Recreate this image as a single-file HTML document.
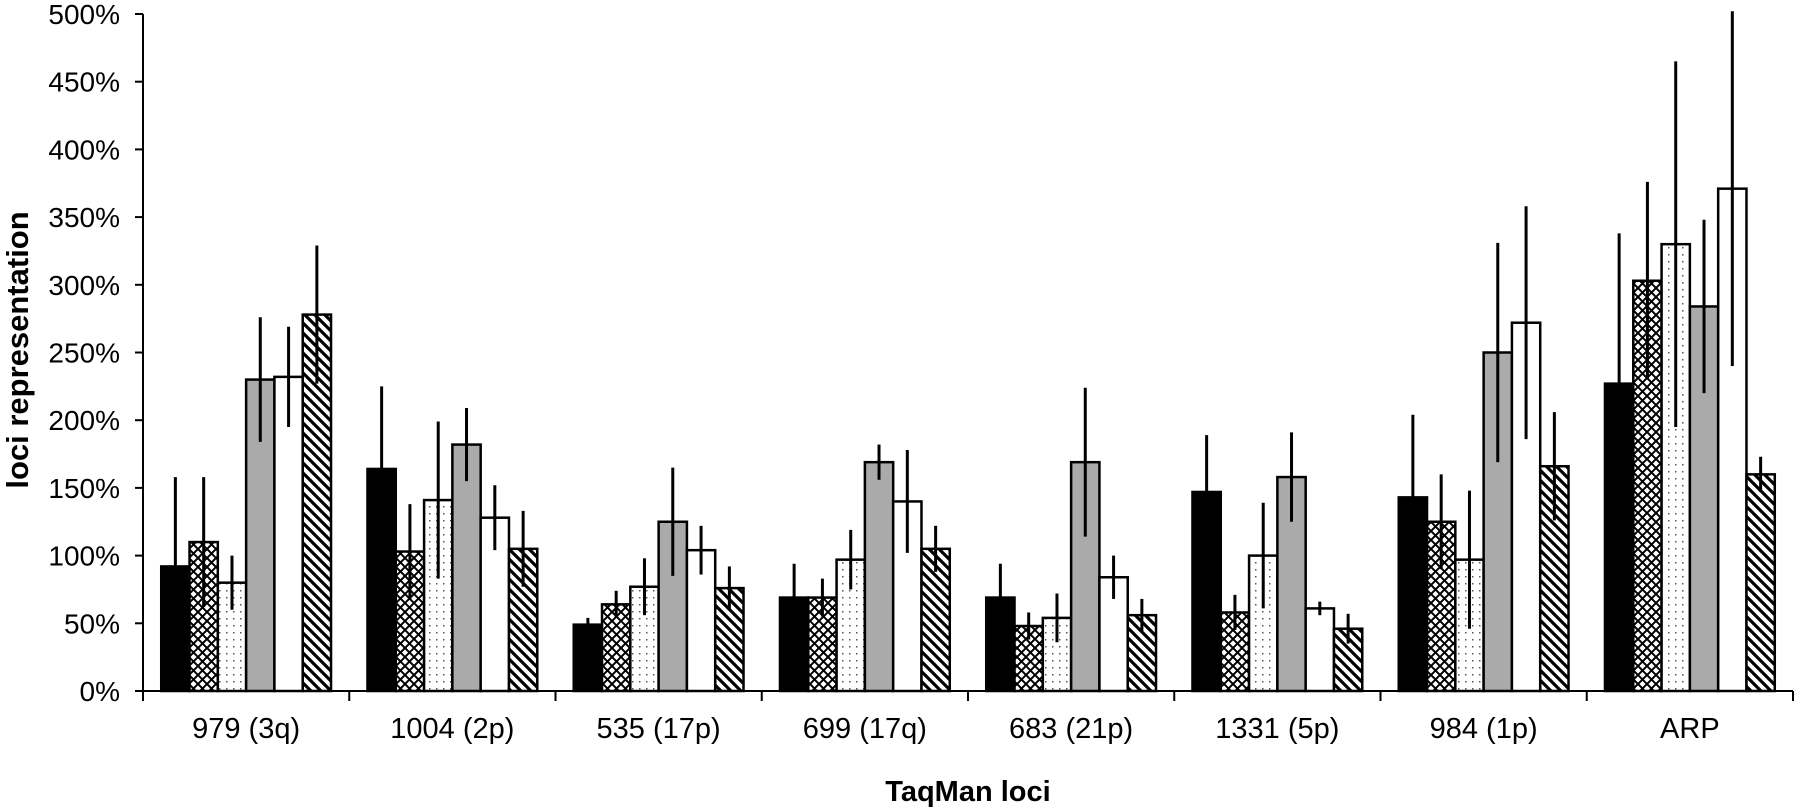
<!DOCTYPE html>
<html><head><meta charset="utf-8"><style>
html,body{margin:0;padding:0;background:#fff;}
svg{display:block;font-family:"Liberation Sans",Arial,sans-serif;}
</style></head><body>
<svg id="chart" width="1800" height="808" viewBox="0 0 1800 808" xmlns="http://www.w3.org/2000/svg">
<defs>
<pattern id="p-cross" patternUnits="userSpaceOnUse" width="9" height="9">
<rect width="9" height="9" fill="#fff"/>
<path d="M0,0 L9,9 M9,0 L0,9" stroke="#000" stroke-width="2"/>
</pattern>
<pattern id="p-dots" patternUnits="userSpaceOnUse" width="7" height="7">
<rect width="7" height="7" fill="#fff"/>
<rect x="2" y="2" width="1.5" height="1.5" fill="#555"/>
</pattern>
<pattern id="p-stripe" patternUnits="userSpaceOnUse" width="10" height="10">
<rect width="10" height="10" fill="#fff"/>
<path d="M-5,-5 L15,15 M-5,5 L5,15 M5,-5 L15,5" stroke="#000" stroke-width="3.2"/>
</pattern>
</defs>
<g id="plot"></g>
</svg>
<script>
const categories = ["979 (3q)","1004 (2p)","535 (17p)","699 (17q)","683 (21p)","1331 (5p)","984 (1p)","ARP"];
const s1 = [92,164,49,69,69,147,143,227];
const s2 = [110,103,64,69,48,58,125,303];
const s3 = [80,141,77,97,54,100,97,330];
const s4 = [230,182,125,169,169,158,250,284];
const s5 = [232,128,104,140,84,61,272,371];
const s6 = [278,105,76,105,56,46,166,160];
const e1 = [66,61,5,25,25,42,61,111];
const e2 = [48,35,10,14,10,13,35,73];
const e3 = [20,58,21,22,18,39,51,135];
const e4 = [46,27,40,13,55,33,81,64];
const e5 = [37,24,18,38,16,5,86,131];
const e6 = [51,28,16,17,12,11,40,13];
const yTicks = [0,50,100,150,200,250,300,350,400,450,500];

const series = [s1,s2,s3,s4,s5,s6];
const errs = [e1,e2,e3,e4,e5,e6];
const fills = ["#000","url(#p-cross)","url(#p-dots)","#aaa","#fff","url(#p-stripe)"];
const NS = "http://www.w3.org/2000/svg";
const X0 = 143, X1 = 1793, Y0 = 691, Y1 = 14, YMAX = 500;
const groupW = (X1 - X0) / categories.length;
const barW = 28.3;
const yScale = v => Y0 - (v / YMAX) * (Y0 - Y1);
const xBar = (g, s) => X0 + g * groupW + (groupW - barW * 6) / 2 + s * barW;
const plot = document.getElementById('plot');
function mk(tag, attrs) {
  const el = document.createElementNS(NS, tag);
  for (const k in attrs) el.setAttribute(k, attrs[k]);
  plot.appendChild(el);
  return el;
}
for (let s = 0; s < 6; s++) {
  for (let g = 0; g < categories.length; g++) {
    const v = series[s][g];
    const r = mk('rect', {x: xBar(g, s), y: yScale(v), width: barW, height: Y0 - yScale(v), fill: fills[s], stroke: '#000', 'stroke-width': 2.5});
    
    
  }
}
for (let s = 0; s < 6; s++) {
  for (let g = 0; g < categories.length; g++) {
    const v = series[s][g], e = errs[s][g];
    const cx = xBar(g, s) + barW / 2;
    const l = mk('line', {x1: cx, x2: cx, y1: yScale(v + e), y2: yScale(Math.max(0, v - e)), stroke: '#000', 'stroke-width': 3});
    
    
  }
}
const ya = mk('line', {x1: X0, x2: X0, y1: Y1, y2: Y0, stroke: '#000', 'stroke-width': 2});


const xa = mk('line', {x1: X0 - 8, x2: X1, y1: Y0, y2: Y0, stroke: '#000', 'stroke-width': 2});


yTicks.forEach(t => {
  const y = yScale(t);
  const tk = mk('line', {x1: X0 - 8, x2: X0, y1: y, y2: y, stroke: '#000', 'stroke-width': 2});
  
  
  const tx = mk('text', {x: 120, y: y + 10, 'text-anchor': 'end', 'font-size': 28});
  tx.textContent = t + '%';
  
  
});
for (let g = 0; g <= categories.length; g++) {
  const x = X0 + g * groupW;
  const tk = mk('line', {x1: x, x2: x, y1: Y0, y2: Y0 + 10, stroke: '#000', 'stroke-width': 2});
  
  
}
categories.forEach((c, g) => {
  const tx = mk('text', {x: X0 + (g + 0.5) * groupW, y: 738, 'text-anchor': 'middle', 'font-size': 29});
  tx.textContent = c;
  
  
});
const xt = mk('text', {x: 968, y: 801, 'text-anchor': 'middle', 'font-size': 29, 'font-weight': 'bold'});
xt.textContent = 'TaqMan loci';


const yt = mk('text', {x: 0, y: 0, 'text-anchor': 'middle', 'font-size': 31, 'font-weight': 'bold', transform: 'translate(28,350) rotate(-90)'});
yt.textContent = 'loci representation';


</script>
</body></html>
